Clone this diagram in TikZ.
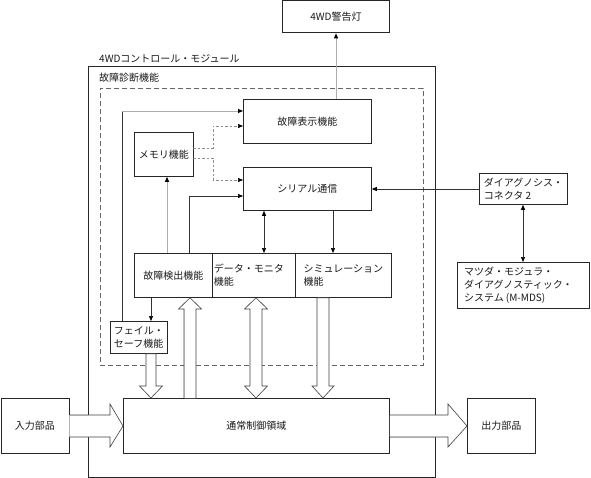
\documentclass[tikz,border=0pt]{standalone}
\usepackage{fontspec}
\setmainfont{Noto Sans CJK JP}
\usetikzlibrary{arrows.meta,calc}
\begin{document}
\begin{tikzpicture}[x=1pt,y=-1pt,
  every node/.style={font=\fontsize{10}{12.8}\selectfont, inner sep=0pt, text=black!90},
  box/.style={draw=black!85, line width=0.8pt, anchor=north west, align=left, fill=white},
  ln/.style={draw=black!80, line width=0.6pt},
  gln/.style={draw=black!32, line width=0.9pt},
  dln/.style={draw=black!45, line width=0.6pt, dash pattern=on 2.5pt off 2pt},
  tip/.style={-{Triangle[length=5pt,width=4pt,color=black]}},
  tips/.style={{Triangle[length=5pt,width=4pt,color=black]}-{Triangle[length=5pt,width=4pt,color=black]}},
  fat/.style={draw=black!75, fill=white, line width=0.6pt, line join=miter},
  lbl/.style={anchor=west}
]
\useasboundingbox (0,0) rectangle (591,478);

% module and dashed region
\node[box, minimum width=347pt, minimum height=410.5pt] (module) at (88,66) {};
\node[lbl] (modlbl) at (99,59) {4WDコントロール・モジュール};
\node[lbl] (diaglbl) at (99,77.5) {故障診断機能};
\node[draw=black!60, line width=0.6pt, dash pattern=on 5pt off 3pt, anchor=north west,
      minimum width=323pt, minimum height=277pt] (dashreg) at (100,88) {};

% boxes
\node[box, minimum width=107pt, minimum height=32pt] (lamp) at (282,0.5) {4WD警告灯};
\node[box, minimum width=128pt, minimum height=44pt] (hyouji) at (243,99) {故障表示機能};
\node[box, minimum width=128pt, minimum height=43pt] (serial) at (243,167) {シリアル通信};
\node[box, minimum width=59pt, minimum height=44pt] (memory) at (134,132) {メモリ機能};
\node[box, minimum width=78pt, minimum height=44pt] (detect) at (134,253) {故障検出機能};
\node[box, minimum width=83pt, minimum height=44pt] (monitor) at (212,253) {データ・モニタ\\機能\phantom{データ・モニ}};
\node[box, minimum width=96pt, minimum height=44pt] (sim) at (295,253) {シミュレーション\\機能\phantom{シミュレーシ}};
\node[box, minimum width=57pt, minimum height=32pt] (failsafe) at (110,321) {フェイル・\\セーフ機能};
\node[box, minimum width=88pt, minimum height=31pt] (conn) at (479,173) {ダイアグノシス・\\コネクタ 2\phantom{ノシス}};
\node[box, minimum width=132pt, minimum height=46pt] (mmds) at (457,262) {マツダ・モジュラ・\phantom{スティ}\\ダイアグノスティック・\\システム (M-MDS)\phantom{ック・}};
\node[box, minimum width=266pt, minimum height=55pt] (normal) at (123,398) {通常制御領域};
\node[box, minimum width=68pt, minimum height=55pt] (input) at (0.5,398) {入力部品};
\node[box, minimum width=68pt, minimum height=55pt] (output) at (467,398) {出力部品};

% thin connectors
\draw[gln, tip] (336,0 |- hyouji.north) -- (336,0 |- lamp.south);
\draw[ln] (122,0 |- failsafe.north) -- (122,111);
\draw[gln, tip] (122,111) -- (122,111 -| hyouji.west);
\draw[dln, tip] (193,148) -- (213,148) -- (213,126) -- (213,126 -| hyouji.west);
\draw[dln, tip] (193,158) -- (213,158) -- (213,180) -- (213,180 -| serial.west);
\draw[ln, tip] (189,0 |- detect.north) -- (189,196) -- (189,196 -| serial.west);
\draw[gln, tip] (167,0 |- detect.north) -- (167,0 |- memory.south);
\draw[ln, tips] (264,0 |- serial.south) -- (264,0 |- monitor.north);
\draw[ln, tip] (333,0 |- serial.south) -- (333,0 |- sim.north);
\draw[ln, tip] (conn.west |- 0,189) -- (serial.east |- 0,189);
\draw[ln, tips] (523,0 |- conn.south) -- (523,0 |- mmds.north);
\draw[ln, tip] (151,0 |- detect.south) -- (151,0 |- failsafe.north);

% fat arrows
\draw[fat] (146,0 |- failsafe.south) -- (156,0 |- failsafe.south) -- (156,386) -- (162.5,386)
   -- (151,0 |- normal.north) -- (139.5,386) -- (146,386) -- cycle;
\draw[fat] (184,0 |- normal.north) -- (184,309) -- (178.5,309) -- (190,0 |- detect.south)
   -- (201.5,309) -- (196,309) -- (196,0 |- normal.north);
\draw[gln] (184,397.5) -- (184,309);
\draw[fat] (250,309) -- (244.5,309) -- (256,0 |- monitor.south) -- (267.5,309) -- (262,309)
   -- (262,386) -- (267.5,386) -- (256,0 |- normal.north) -- (244.5,386) -- (250,386) -- cycle;
\draw[fat] (317,0 |- sim.south) -- (329,0 |- sim.south) -- (329,386) -- (334,386)
   -- (323,0 |- normal.north) -- (312,386) -- (317,386) -- cycle;
\draw[fat] (input.east |- 0,415) -- (110,415) -- (110,404) -- (normal.west |- 0,426)
   -- (110,447) -- (110,437) -- (input.east |- 0,437);
\draw[gln] (68.5,415) -- (88,415);
\draw[fat] (normal.east |- 0,415) -- (448,415) -- (448,404) -- (output.west |- 0,426)
   -- (448,447) -- (448,437) -- (normal.east |- 0,437);
\draw[gln] (389.5,437) -- (435,437);
\end{tikzpicture}
\end{document}
